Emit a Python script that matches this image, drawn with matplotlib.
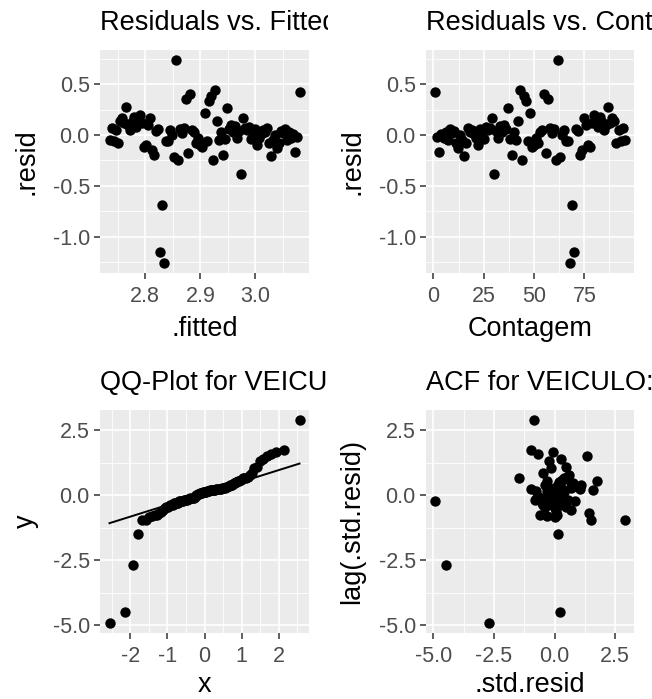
import matplotlib
matplotlib.use("Agg")
import matplotlib.pyplot as plt
import numpy as np
from statistics import NormalDist
from matplotlib.transforms import Bbox, TransformedBbox

plt.rcParams['font.family'] = ['Liberation Sans', 'DejaVu Sans']
plt.rcParams['axes.unicode_minus'] = False

# residuos do modelo (ordem de Contagem)
contagem = np.arange(1, 96)
resid = np.array([
    0.43, -0.02, -0.17, 0.01, -0.03, 0.03, -0.05, 0.06, 0.02, 0.04,
    -0.08, -0.13, 0.00, -0.05, -0.21, -0.08, 0.07, 0.03, 0.05, 0.01,
    -0.03, -0.10, 0.06, 0.02, -0.04, 0.08, 0.05, 0.07, 0.17, -0.38,
    0.04, -0.03, 0.09, 0.03, 0.10, 0.06, 0.27, -0.04, -0.20, 0.03,
    -0.05, 0.14, 0.45, -0.25, 0.39, 0.34, -0.06, 0.22, -0.12, -0.10,
    -0.03, -0.08, 0.03, 0.05, 0.41, -0.18, 0.36, 0.07, 0.02, 0.06,
    -0.25, 0.74, -0.22, 0.00, 0.05, -0.06, -0.06, -1.26, -0.69, -1.15,
    0.06, 0.04, -0.20, -0.15, 0.17, 0.10, -0.10, -0.12, 0.12, 0.20,
    0.15, 0.08, 0.18, 0.13, 0.05, 0.10, 0.28, 0.12, 0.17, 0.14,
    -0.08, 0.05, -0.06, 0.07, -0.05,
])
# tendencia ajustada (TSLM com trend)
fit_intercept = 3.0837
fit_slope = -0.00367

titles = ["Residuals vs. Fitted", "Residuals vs. Contagem",
          "QQ-Plot for VEICULO", "ACF for VEICULO:"]

fitted_ticks = [2.8, 2.9, 3.0]
fitted_labels = ["2.8", "2.9", "3.0"]
resid_ticks = [0.5, 0.0, -0.5, -1.0]
resid_labels = ["0.5", "0.0", "-0.5", "-1.0"]
cont_ticks = [0, 25, 50, 75]
cont_labels = ["0", "25", "50", "75"]
qx_ticks = [-2, -1, 0, 1, 2]
qx_labels = ["-2", "-1", "0", "1", "2"]
std_ticks = [2.5, 0.0, -2.5, -5.0]
std_labels = ["2.5", "0.0", "-2.5", "-5.0"]

fitted = fit_intercept + fit_slope * contagem
sigma = np.sqrt(np.sum(resid ** 2) / (len(resid) - 2))
std_resid = resid / sigma

n = len(std_resid)
nd = NormalDist()
theo = np.array([nd.inv_cdf((i - 0.5) / n) for i in range(1, n + 1)])
sample = np.sort(std_resid)
q1, q3 = np.percentile(std_resid, [25, 75])
x1, x3 = nd.inv_cdf(0.25), nd.inv_cdf(0.75)
qq_slope = (q3 - q1) / (x3 - x1)
qq_int = q1 - qq_slope * x1

W, H = 652, 699
fig = plt.figure(figsize=(W / 100, H / 100), dpi=100)
PT = 56  # tamanho dos pontos


def px(x, y):
    return x / W, 1 - y / H


def minors(ticks, step):
    return [t + step / 2 for t in [min(ticks) - step] + list(ticks)]


def panel(x0, y0, x1, y1, title, clip_right, xlab, ylab, xlab_off=63):
    ax = fig.add_axes([x0 / W, 1 - y1 / H, (x1 - x0) / W, (y1 - y0) / H])
    ax.set_facecolor('#EBEBEB')
    for s in ax.spines.values():
        s.set_visible(False)
    ax.set_axisbelow(True)
    ax.grid(which='major', color='white', lw=1.2)
    ax.grid(which='minor', color='white', lw=0.6)
    ax.tick_params(which='major', length=4.3, width=1.1, color='#333333',
                   labelsize=15.5, labelcolor='#4D4D4D', pad=3)
    ax.tick_params(axis='x', which='major', pad=5)
    ax.tick_params(which='minor', length=0)
    t = fig.text(*px(x0, y0 - 20), title, fontsize=19.5, ha='left',
                 va='baseline')
    t.set_clip_box(TransformedBbox(Bbox([[0, 0], [clip_right / W, 1]]),
                                   fig.transFigure))
    t.set_clip_on(True)
    fig.text(*px((x0 + x1) / 2, y1 + xlab_off), xlab, fontsize=19.5,
             ha='center', va='baseline')
    fig.text(*px(x0 - 67, (y0 + y1) / 2), ylab, fontsize=19.5, ha='center',
             va='baseline', rotation=90, rotation_mode='anchor')
    return ax


def set_ticks(ax, xt, xl, yt, yl):
    ax.set_xticks(xt, xl)
    ax.set_yticks(yt, yl)
    lo, hi = ax.get_xlim()
    step = abs(xt[1] - xt[0])
    ax.set_xticks([m for m in minors(xt, step) if lo < m < hi], minor=True)
    lo, hi = ax.get_ylim()
    step = abs(yt[1] - yt[0])
    ax.set_yticks([m for m in minors(yt, step) if lo < m < hi], minor=True)


ax1 = panel(100, 50, 309, 273, titles[0], 328, ".fitted", ".resid")
ax1.scatter(fitted, resid, s=PT, color='black', linewidths=0, zorder=3)
set_ticks(ax1, fitted_ticks, fitted_labels, resid_ticks, resid_labels)

ax2 = panel(426, 50, 634, 273, titles[1], 652, "Contagem", ".resid")
ax2.scatter(contagem, resid, s=PT, color='black', linewidths=0, zorder=3)
set_ticks(ax2, cont_ticks, cont_labels, resid_ticks, resid_labels)

ax3 = panel(100, 410, 309, 633, titles[2], 328, "x", "y", xlab_off=59)
ax3.scatter(theo, sample, s=PT, color='black', linewidths=0, zorder=3)
lx = np.array([theo.min(), theo.max()])
ax3.plot(lx, qq_int + qq_slope * lx, color='black', lw=1.4, zorder=4)
set_ticks(ax3, qx_ticks, qx_labels, std_ticks, std_labels)

ax4 = panel(426, 410, 634, 633, titles[3], 652, ".std.resid",
            "lag(.std.resid)", xlab_off=59)
ax4.scatter(std_resid[1:], std_resid[:-1], s=PT, color='black',
            linewidths=0, zorder=3)
set_ticks(ax4, std_ticks, std_labels, std_ticks, std_labels)

fig.savefig("out.png", dpi=100)
